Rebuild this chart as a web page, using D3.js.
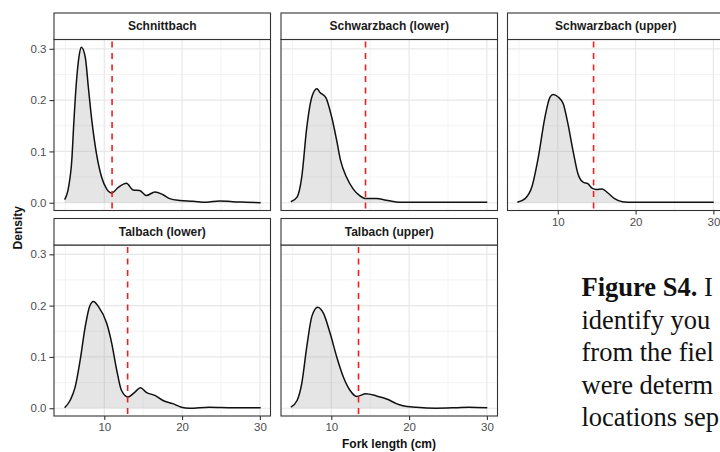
<!DOCTYPE html>
<html><head><meta charset="utf-8">
<script src="https://cdn.jsdelivr.net/npm/d3@7"></script>
<style>
html,body{margin:0;padding:0;background:#fff;overflow:hidden}
svg{display:block}
</style></head>
<body>
<svg id="c" width="720" height="452"></svg>
<script>
// ---- data ----
const sites = ["Schnittbach", "Schwarzbach (lower)", "Schwarzbach (upper)", "Talbach (lower)", "Talbach (upper)"];
const thresholds = [11.0, 14.4, 14.6, 13.0, 13.5];

const xSchnittbach = [4.9,5.4,5.85,6.05,6.4,6.75,7.05,7.55,7.95,8.4,9.0,9.65,10.3,10.95,11.8,12.85,13.7,14.55,15.4,16.5,17.5,18.4,19.7,21.4,23.1,24.8,26.5,28.2,30.1];
const dSchnittbach = [0.006,0.03,0.089,0.147,0.232,0.285,0.303,0.284,0.225,0.16,0.095,0.05,0.027,0.019,0.03,0.038,0.025,0.024,0.014,0.021,0.016,0.008,0.0045,0.003,0.001,0.0035,0.002,0.001,0.0];

const xSchwarzLower = [4.8,5.6,6.2,6.85,7.5,8.15,8.55,9.3,10.05,10.7,11.2,11.95,12.8,13.65,14.5,15.8,17.05,18.8,22,26,30.05];
const dSchwarzLower = [0.002,0.011,0.05,0.147,0.206,0.222,0.215,0.205,0.167,0.121,0.082,0.05,0.027,0.014,0.008,0.008,0.005,0.001,0.001,0.001,0.001];

const xSchwarzUpper = [4.8,5.8,6.65,7.5,8.35,9.0,9.4,10.05,10.7,11.3,11.95,12.6,13.25,13.85,14.45,14.95,15.7,16.45,17.3,18.3,19.6,24,30.05];
const dSchwarzUpper = [0.001,0.008,0.03,0.089,0.167,0.206,0.211,0.206,0.193,0.154,0.102,0.056,0.04,0.037,0.028,0.026,0.027,0.019,0.008,0.002,0.001,0.001,0.001];

const xTalLower = [4.9,5.6,6.25,6.9,7.55,8.1,8.6,9.25,10.3,10.95,11.6,12.2,13.05,13.9,14.65,15.4,16.5,17.55,18.8,19.9,20.95,23.5,26.5,30.1];
const dTalLower = [0.001,0.015,0.041,0.094,0.159,0.198,0.208,0.198,0.166,0.127,0.074,0.035,0.022,0.031,0.04,0.031,0.025,0.015,0.009,0.002,0.0,0.002,0.001,0.001];

const xTalUpper = [4.8,5.6,6.2,6.85,7.5,8.25,9.0,9.85,10.7,11.55,12.4,13.25,14.45,15.8,17.3,18.35,19.2,20.9,23.45,26,27.7,30.05];
const dTalUpper = [0.002,0.015,0.048,0.12,0.179,0.197,0.185,0.146,0.1,0.061,0.035,0.023,0.028,0.024,0.017,0.009,0.005,0.002,0.0,0.001,0.002,0.001];

const xTicks = [10, 20, 30];
const xMinor = [5, 15, 25];
const yTicks = [0, 0.1, 0.2, 0.3];
const yMinor = [0.05, 0.15, 0.25];

const xTitle = "Fork length (cm)";
const yTitle = "Density";
const captionBold = "Figure S4.";
const captionFirst = " I";
const captionLines = ["identify you", "from the fiel", "were determ", "locations sep"];

// ---- layout ----
const seriesX = [xSchnittbach, xSchwarzLower, xSchwarzUpper, xTalLower, xTalUpper];
const seriesD = [dSchnittbach, dSchwarzLower, dSchwarzUpper, dTalLower, dTalUpper];
const colLeft = [54, 281, 507.5];
const rowTop = [13, 218.5];
const panelW = 216.5, stripH = 26.5, panelH = 171;
const sans = "'Liberation Sans', Arial, sans-serif";

const svg = d3.select("#c");

const allX = seriesX.flat();
const xe = d3.extent(allX); const xPad = (xe[1]-xe[0])*0.05;
const yMax = d3.max(seriesD.flat()); const yPad = yMax*0.05;

sites.forEach((name, i) => {
  const col = i < 3 ? i : i - 3;
  const row = i < 3 ? 0 : 1;
  const L = colLeft[col], T = rowTop[row] + stripH;
  const x = d3.scaleLinear().domain([xe[0]-xPad, xe[1]+xPad]).range([L, L+panelW]);
  const y = d3.scaleLinear().domain([-yPad, yMax+yPad]).range([T+panelH, T]);
  const g = svg.append("g");

  g.append("rect").attr("x", L).attr("y", T).attr("width", panelW).attr("height", panelH).attr("fill", "#fff");
  g.selectAll(".vm").data(xMinor).join("line").attr("x1", d=>x(d)).attr("x2", d=>x(d)).attr("y1", T).attr("y2", T+panelH).attr("stroke", "#f0f0f0").attr("stroke-width", 0.8);
  g.selectAll(".hm").data(yMinor).join("line").attr("y1", d=>y(d)).attr("y2", d=>y(d)).attr("x1", L).attr("x2", L+panelW).attr("stroke", "#f0f0f0").attr("stroke-width", 0.8);
  g.selectAll(".vM").data(xTicks).join("line").attr("x1", d=>x(d)).attr("x2", d=>x(d)).attr("y1", T).attr("y2", T+panelH).attr("stroke", "#e8e8e8").attr("stroke-width", 1.2);
  g.selectAll(".hM").data(yTicks).join("line").attr("y1", d=>y(d)).attr("y2", d=>y(d)).attr("x1", L).attr("x2", L+panelW).attr("stroke", "#e8e8e8").attr("stroke-width", 1.2);

  const pts = seriesX[i].map((v, k) => [v, seriesD[i][k]]);
  const area = d3.area().x(d=>x(d[0])).y0(y(0)).y1(d=>y(d[1])).curve(d3.curveMonotoneX);
  const line = d3.line().x(d=>x(d[0])).y(d=>y(d[1])).curve(d3.curveMonotoneX);
  g.append("path").attr("d", area(pts)).attr("fill", "#999").attr("fill-opacity", 0.25);
  g.append("path").attr("d", line(pts)).attr("fill", "none").attr("stroke", "#111").attr("stroke-width", 1.5);

  g.append("line").attr("x1", x(thresholds[i])).attr("x2", x(thresholds[i])).attr("y1", T+2).attr("y2", T+panelH)
    .attr("stroke", "#f01e1e").attr("stroke-width", 1.6).attr("stroke-dasharray", "6,5.5");

  g.append("rect").attr("x", L).attr("y", T).attr("width", panelW).attr("height", panelH).attr("fill", "none").attr("stroke", "#333").attr("stroke-width", 1.1);
  g.append("rect").attr("x", L).attr("y", rowTop[row]).attr("width", panelW).attr("height", stripH).attr("fill", "#fff").attr("stroke", "#333").attr("stroke-width", 1.1);
  g.append("text").attr("x", L+panelW/2).attr("y", rowTop[row]+stripH/2).attr("dy", "0.35em").attr("text-anchor", "middle")
    .attr("font-family", sans).attr("font-weight", "bold").attr("font-size", 12).attr("fill", "#1a1a1a").text(name);

  const hasX = (i >= 2);
  const hasY = (col === 0);
  if (hasX) {
    const ax = g.append("g").attr("transform", `translate(0,${T+panelH})`)
      .call(d3.axisBottom(x).tickValues(xTicks).tickSize(4).tickPadding(3).tickFormat(d3.format("d")));
    ax.select(".domain").remove();
    ax.selectAll("line").attr("stroke", "#333").attr("stroke-width", 1.1);
    ax.selectAll("text").attr("font-family", sans).attr("font-size", 11.5).attr("fill", "#4d4d4d");
  }
  if (hasY) {
    const ay = g.append("g").attr("transform", `translate(${L},0)`)
      .call(d3.axisLeft(y).tickValues(yTicks).tickSize(4.5).tickPadding(3).tickFormat(d3.format(".1f")));
    ay.select(".domain").remove();
    ay.selectAll("line").attr("stroke", "#333").attr("stroke-width", 1.1);
    ay.selectAll("text").attr("font-family", sans).attr("font-size", 11.5).attr("fill", "#4d4d4d");
  }
});

svg.append("text").attr("x", (colLeft[0] + colLeft[2] + panelW)/2).attr("y", 447.5).attr("text-anchor", "middle")
  .attr("font-family", sans).attr("font-weight", "bold").attr("font-size", 12).attr("fill", "#111").text(xTitle);
const yMid = (rowTop[0] + stripH + rowTop[1] + stripH + panelH) / 2;
svg.append("text").attr("transform", `translate(21.5,${yMid}) rotate(-90)`).attr("text-anchor", "middle")
  .attr("font-family", sans).attr("font-weight", "bold").attr("font-size", 12).attr("fill", "#111").text(yTitle);

// caption text
const serif = "'Liberation Serif', 'Times New Roman', serif";
const cap = svg.append("g").attr("font-family", serif).attr("font-size", 26.5).attr("fill", "#111");
const t0 = cap.append("text").attr("x", 581.5).attr("y", 296);
t0.append("tspan").attr("font-weight", "bold").text(captionBold);
t0.append("tspan").text(captionFirst);
captionLines.forEach((s, k) => {
  cap.append("text").attr("x", 581.5).attr("y", 328.5 + k*32.5).text(s);
});
</script>
</body></html>
